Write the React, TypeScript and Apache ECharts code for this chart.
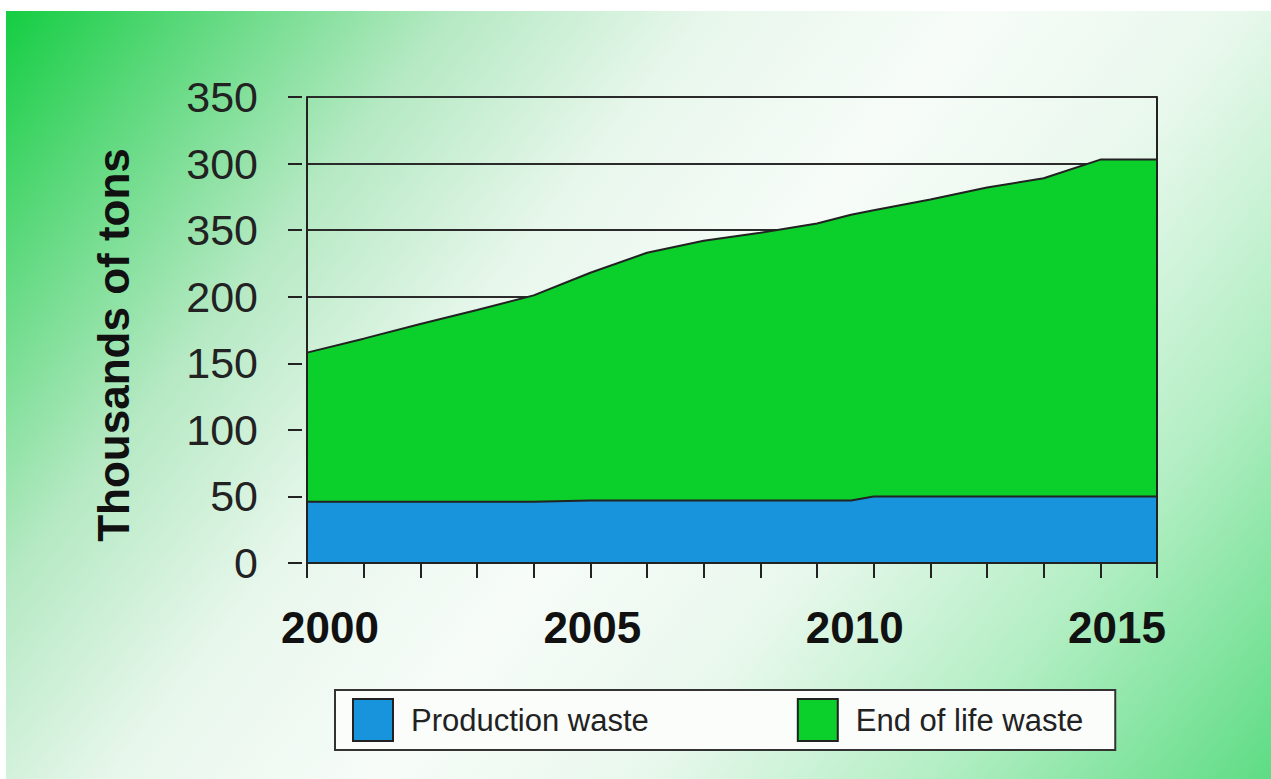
import React, { useEffect, useRef } from "react";
import * as echarts from "echarts";

const years = [2000, 2001, 2002, 2003, 2004, 2005, 2006, 2007, 2008, 2009, 2009.6, 2010, 2011, 2012, 2013, 2014, 2015];
const productionWaste = [46, 46, 46, 46, 46, 47, 47, 47, 47, 47, 47, 50, 50, 50, 50, 50, 50];
const endOfLifeWaste = [112, 122.5, 133.5, 144, 155, 171, 186, 195, 201, 208, 214.5, 215, 223, 232, 239, 253, 253];
const yTickLabels = ["0", "50", "100", "150", "200", "350", "300", "350"];
const xTickLabels = ["2000", "2005", "2010", "2015"];
const seriesNames = ["Production waste", "End of life waste"];
const yAxisTitle = "Thousands of tons";

const FONT = "'Liberation Sans', Arial, Helvetica, sans-serif";
const BLUE = "#1794db";
const GREEN = "#0bcf2a";
const INK = "#222";

export default function App() {
  const ref = useRef<HTMLDivElement>(null);
  useEffect(() => {
    document.body.style.margin = "0";
    if (!ref.current) return;
    const chart = echarts.init(ref.current, null, { renderer: "svg" });
    const totals = years.map((y, i) => [y, productionWaste[i] + endOfLifeWaste[i]]);
    const prod = years.map((y, i) => [y, productionWaste[i]]);
    const frame = (position: string, offset = 0) => ({
      type: "value",
      gridIndex: 0,
      min: 0,
      max: 350,
      interval: 50,
      position,
      offset,
      axisLine: { show: true, lineStyle: { color: INK, width: 2 } },
      axisTick: { show: false },
      axisLabel: { show: false },
      splitLine: { show: false },
      z: 10,
    });
    chart.setOption({
      animation: false,
      backgroundColor: "transparent",
      grid: [
        { left: 307, right: 114, top: 97, bottom: 216 },
        { left: 330, right: 154, top: 97, bottom: 216 },
      ],
      xAxis: [
        {
          type: "value",
          gridIndex: 0,
          min: 2000,
          max: 2015,
          interval: 1,
          axisLine: { show: true, onZero: false, lineStyle: { color: INK, width: 2 } },
          axisTick: { show: true, length: 15, lineStyle: { color: INK, width: 2 } },
          axisLabel: { show: false },
          splitLine: { show: false },
          z: 10,
        },
        {
          type: "value",
          gridIndex: 1,
          min: 2000,
          max: 2015,
          interval: 5,
          axisLine: { show: false },
          axisTick: { show: false },
          splitLine: { show: false },
          axisLabel: {
            show: true,
            margin: 42,
            fontFamily: FONT,
            fontSize: 44,
            fontWeight: "bold",
            color: "#111",
            formatter: (v: number) => xTickLabels[Math.round((v - 2000) / 5)] ?? "",
          },
        },
      ],
      yAxis: [
        {
          type: "value",
          gridIndex: 0,
          min: 0,
          max: 350,
          interval: 50,
          axisLine: { show: false },
          axisTick: { show: false },
          axisLabel: {
            margin: 49,
            fontFamily: FONT,
            fontSize: 43,
            color: INK,
            formatter: (v: number) => yTickLabels[Math.round(v / 50)] ?? "",
          },
          splitLine: { show: true, lineStyle: { color: "#2a2a2a", width: 2 } },
          z: 0,
        },
        {
          type: "value",
          gridIndex: 0,
          min: 0,
          max: 350,
          interval: 50,
          position: "left",
          offset: 5,
          axisLine: { show: false },
          axisTick: { show: true, length: 14, lineStyle: { color: INK, width: 2 } },
          axisLabel: { show: false },
          splitLine: { show: false },
        },
        frame("left"),
        frame("right"),
        {
          type: "value",
          gridIndex: 1,
          min: 0,
          max: 350,
          show: false,
        },
      ],
      legend: {
        data: seriesNames,
        left: 335,
        top: 690,
        orient: "horizontal",
        icon: "rect",
        itemWidth: 40,
        itemHeight: 42,
        itemGap: 148,
        padding: [8, 32, 8, 17],
        backgroundColor: "#fbfdfb",
        borderColor: "#333",
        borderWidth: 2,
        itemStyle: { borderColor: INK, borderWidth: 2 },
        textStyle: { fontFamily: FONT, fontSize: 31, color: INK, padding: [0, 0, 0, 13] },
      },
      graphic: [
        {
          type: "text",
          x: 113,
          y: 345,
          rotation: Math.PI / 2,
          style: {
            text: yAxisTitle,
            fontFamily: FONT,
            fontSize: 44,
            fontWeight: "bold",
            fill: "#111",
            align: "center",
            verticalAlign: "middle",
          },
        },
      ],
      series: [
        {
          name: seriesNames[1],
          type: "line",
          xAxisIndex: 0,
          yAxisIndex: 0,
          data: totals,
          symbol: "none",
          color: GREEN,
          itemStyle: { color: GREEN },
          lineStyle: { color: INK, width: 2 },
          areaStyle: { color: GREEN, opacity: 1 },
          z: 3,
        },
        {
          name: seriesNames[0],
          type: "line",
          xAxisIndex: 0,
          yAxisIndex: 0,
          data: prod,
          symbol: "none",
          color: BLUE,
          itemStyle: { color: BLUE },
          lineStyle: { color: INK, width: 2 },
          areaStyle: { color: BLUE, opacity: 1 },
          z: 4,
        },
      ],
    });
    return () => chart.dispose();
  }, []);

  return (
    <div style={{ position: "relative", width: 1271, height: 779, background: "#fff", overflow: "hidden" }}>
      <div
        style={{
          position: "absolute",
          left: 6,
          top: 11,
          width: 1265,
          height: 768,
          background:
            "linear-gradient(128deg, #14cd42 0%, #5ad87a 10%, #b5e9c3 24%, #e8f7ec 38%, #f7fcf8 52%, #e9f8ed 66%, #b2eec3 82%, #5edc84 100%)",
        }}
      />
      <div ref={ref} style={{ position: "absolute", left: 0, top: 0, width: 1271, height: 779 }} />
    </div>
  );
}
